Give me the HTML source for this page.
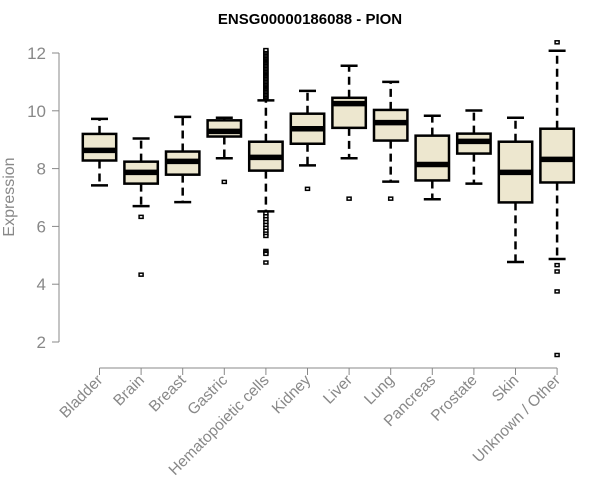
<!DOCTYPE html>
<html><head><meta charset="utf-8"><style>
body{margin:0;background:#fff}
svg{display:block;font-family:"Liberation Sans",Arial,sans-serif}
</style></head><body>
<svg id="chart" width="600" height="500">
<text x="310" y="24" text-anchor="middle" font-weight="bold" font-size="15" fill="#000">ENSG00000186088 - PION</text>
<text transform="translate(14,197) rotate(-90)" text-anchor="middle" font-size="16" fill="#888">Expression</text>
<g id="axes"></g><g id="boxes"></g>
</svg>
<script>
const categories=["Bladder","Brain","Breast","Gastric","Hematopoietic cells","Kidney","Liver","Lung","Pancreas","Prostate","Skin","Unknown / Other"];
const lowWhisker=[7.42,6.7,6.84,8.36,6.52,8.11,8.36,7.55,6.94,7.48,4.77,4.87];
const q1=[8.28,7.48,7.79,9.11,7.93,8.86,9.41,8.97,7.59,8.52,6.83,7.52];
const median=[8.63,7.87,8.25,9.29,8.39,9.38,10.25,9.59,8.14,8.94,7.87,8.32];
const q3=[9.2,8.24,8.59,9.67,8.93,9.9,10.45,10.03,9.14,9.21,8.93,9.38];
const highWhisker=[9.72,9.04,9.79,9.76,10.36,10.69,11.56,11.0,9.83,10.01,9.76,12.08];
const outliers=[[],[6.33,4.33],[],[7.54],
[10.4,10.45,10.5,10.55,10.6,10.65,10.7,10.75,10.8,10.85,10.9,10.95,11.0,11.05,11.1,11.15,11.2,11.25,11.3,11.35,11.4,11.45,11.5,11.55,11.6,11.65,11.7,11.75,11.8,11.85,11.9,11.95,12.0,12.05,12.1,6.45,6.35,6.25,6.15,6.05,5.95,5.85,5.75,5.67,5.15,5.1,5.05,4.75],
[7.3],[6.96],[6.96],[],[],[],[12.37,4.66,4.44,3.75,1.55]];
const yTicks=[2,4,6,8,10,12];
const NS="http://www.w3.org/2000/svg";
const y=v=>342-(v-2)*28.9;
const x=i=>99.5+i*41.6;
function mk(tag,attrs,parent){const e=document.createElementNS(NS,tag);for(const k in attrs)e.setAttribute(k,attrs[k]);parent.appendChild(e);return e;}
const ax=document.getElementById('axes'),bx=document.getElementById('boxes');
let l=mk('line',{x1:59,x2:59,y1:y(12),y2:y(2),stroke:'#888'},ax);


yTicks.forEach(t=>{
 let tk=mk('line',{x1:52,x2:59,y1:y(t),y2:y(t),stroke:'#888'},ax);
 
 
 let tx=mk('text',{x:46,y:y(t)+6,'text-anchor':'end','font-size':17,fill:'#888'},ax);
 tx.textContent=t;
 
 
});
let xl=mk('line',{x1:x(0),x2:x(categories.length-1),y1:368,y2:368,stroke:'#888'},ax);


categories.forEach((c,i)=>{
 const cx=x(i);
 let tk=mk('line',{x1:cx,x2:cx,y1:368,y2:375,stroke:'#888'},ax);
 
 
 let tx=mk('text',{transform:`translate(${cx+4},${381}) rotate(-45)`,'text-anchor':'end','font-size':15.5,fill:'#888'},ax);
 tx.textContent=c;
 
 
 const g=mk('g',{},bx);
 
 
 mk('line',{x1:cx,x2:cx,y1:y(q3[i]),y2:y(highWhisker[i]),stroke:'#000','stroke-width':2.5,'stroke-dasharray':'8,5'},g);
 mk('line',{x1:cx,x2:cx,y1:y(q1[i]),y2:y(lowWhisker[i]),stroke:'#000','stroke-width':2.5,'stroke-dasharray':'8,5'},g);
 mk('line',{x1:cx-8.5,x2:cx+8.5,y1:y(highWhisker[i]),y2:y(highWhisker[i]),stroke:'#000','stroke-width':2.5},g);
 mk('line',{x1:cx-8.5,x2:cx+8.5,y1:y(lowWhisker[i]),y2:y(lowWhisker[i]),stroke:'#000','stroke-width':2.5},g);
 mk('rect',{x:cx-16.7,y:y(q3[i]),width:33.4,height:y(q1[i])-y(q3[i]),fill:'#ede7cf',stroke:'#000','stroke-width':2.5},g);
 mk('line',{x1:cx-16.7,x2:cx+16.7,y1:y(median[i]),y2:y(median[i]),stroke:'#000','stroke-width':5.5},g);
 outliers[i].forEach(o=>{
  let p=mk('rect',{x:cx-2,y:y(o)-1.5,width:4,height:3,fill:'#fff',stroke:'#000','stroke-width':1.5},g);
  
  
 });
});
</script>
</body></html>
